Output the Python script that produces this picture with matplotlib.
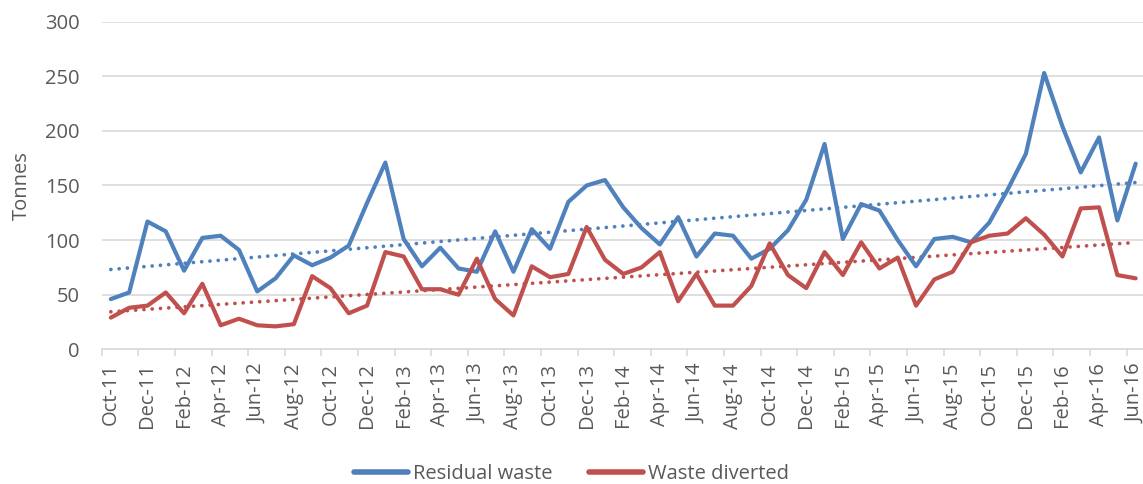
import numpy as np
import matplotlib
matplotlib.use("Agg")
import matplotlib.pyplot as plt

months = ["Oct-11", "Nov-11", "Dec-11", "Jan-12", "Feb-12", "Mar-12", "Apr-12", "May-12",
          "Jun-12", "Jul-12", "Aug-12", "Sep-12", "Oct-12", "Nov-12", "Dec-12", "Jan-13",
          "Feb-13", "Mar-13", "Apr-13", "May-13", "Jun-13", "Jul-13", "Aug-13", "Sep-13",
          "Oct-13", "Nov-13", "Dec-13", "Jan-14", "Feb-14", "Mar-14", "Apr-14", "May-14",
          "Jun-14", "Jul-14", "Aug-14", "Sep-14", "Oct-14", "Nov-14", "Dec-14", "Jan-15",
          "Feb-15", "Mar-15", "Apr-15", "May-15", "Jun-15", "Jul-15", "Aug-15", "Sep-15",
          "Oct-15", "Nov-15", "Dec-15", "Jan-16", "Feb-16", "Mar-16", "Apr-16", "May-16",
          "Jun-16"]

residual_waste = [46, 52, 117, 108, 72, 102, 104, 91, 53, 65, 86, 77, 84, 95, 134, 171,
                  101, 76, 93, 74, 71, 108, 71, 110, 92, 135, 150, 155, 130, 111, 96, 121,
                  85, 106, 104, 83, 92, 109, 137, 188, 101, 133, 127, 100, 76, 101, 103, 98,
                  116, 146, 179, 253, 204, 162, 194, 118, 170]

waste_diverted = [29, 38, 40, 52, 33, 60, 22, 28, 22, 21, 23, 67, 56, 33, 40, 89,
                  85, 55, 55, 50, 83, 46, 31, 76, 66, 69, 112, 82, 69, 75, 89, 44,
                  69, 40, 40, 58, 97, 68, 56, 89, 68, 98, 74, 84, 40, 64, 71, 98,
                  104, 106, 120, 105, 85, 129, 130, 68, 65]

BLUE = "#4F81BD"
RED = "#C0504D"
GRID = "#D9D9D9"
TEXT = "#595959"
FONT = "Open Sans"

plt.rcParams["font.family"] = [FONT, "DejaVu Sans"]

fig = plt.figure(figsize=(11.43, 4.84), dpi=100)
ax = fig.add_axes([0.08898, 0.2783, 0.9126, 0.6769])

x = np.arange(len(months))
ax.plot(x, residual_waste, color=BLUE, lw=3.0, solid_joinstyle="round",
        solid_capstyle="round", label="Residual waste", zorder=3)
ax.plot(x, waste_diverted, color=RED, lw=3.0, solid_joinstyle="round",
        solid_capstyle="round", label="Waste diverted", zorder=3)

# linear trendlines
for series, col in ((residual_waste, BLUE), (waste_diverted, RED)):
    k, b = np.polyfit(x, series, 1)
    ax.plot(x, k * x + b, color=col, lw=2.7, linestyle=(0, (0.01, 2.2)),
            dash_capstyle="round", zorder=2)

ax.set_xlim(-0.5, len(months) - 0.5)
ax.set_ylim(0, 300)
ax.set_yticks(range(0, 301, 50))
ax.yaxis.grid(True, color=GRID, lw=1.2)
ax.set_axisbelow(True)

ax.set_xticks(x[::2])
ax.set_xticklabels(months[::2], rotation=90)
ax.set_xticks(np.arange(-0.5, len(months), 2), minor=True)
ax.tick_params(axis="x", which="major", length=0, pad=10, labelsize=14.5, labelcolor=TEXT)
ax.tick_params(axis="x", which="minor", length=5, width=1.2, color=GRID)
ax.tick_params(axis="y", length=0, pad=16, labelsize=14.5, labelcolor=TEXT)

for side in ("top", "right", "left"):
    ax.spines[side].set_visible(False)
ax.spines["bottom"].set_color(GRID)
ax.spines["bottom"].set_linewidth(1.2)

fig.text(0.019, 0.6175, "Tonnes", rotation=90, ha="center", va="center",
         fontsize=14.5, color=TEXT)

leg = fig.legend(loc="center", bbox_to_anchor=(0.5, 0.02), ncol=2, frameon=False,
                 fontsize=14.5, handlelength=2.7, handletextpad=0.25, columnspacing=1.8,
                 labelcolor=TEXT, borderaxespad=0)
for line in leg.get_lines():
    line.set_linewidth(4)
    line.set_solid_capstyle("round")

fig.savefig("out.png", dpi=100)
